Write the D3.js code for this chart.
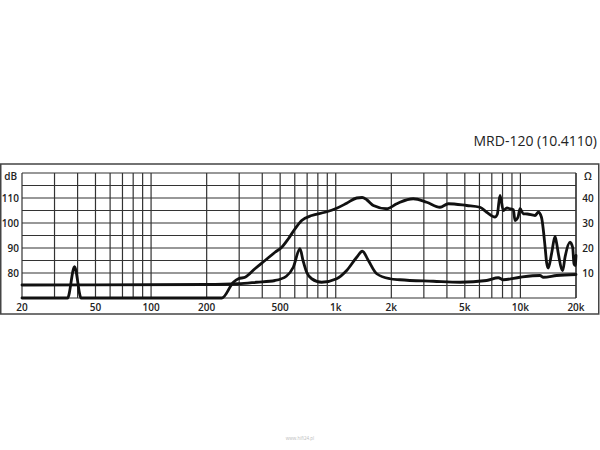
<!DOCTYPE html>
<html>
<head>
<meta charset="utf-8">
<script src="https://cdn.jsdelivr.net/npm/d3@7"></script>
<style>
  html, body { margin: 0; padding: 0; background: #fff; }
  svg { display: block; font-family: "Open Sans", "DejaVu Sans", sans-serif; }
</style>
</head>
<body>
<svg id="chart" width="600" height="450"></svg>
<script>
// ---- data ----
const title = "MRD-120 (10.4110)";
const watermark = "www.hifi24.pl";
const freqTickLabels = [20, 50, 100, 200, 500, 1000, 2000, 5000, 10000, 20000];
const dbTickLabels = [80, 90, 100, 110];
const ohmTickLabels = [10, 20, 30, 40];

const splFreq = [20, 35.3, 38.5, 41.8, 242, 279, 297, 323, 365, 414, 469, 510, 554, 602, 654, 741, 875, 1011, 1146, 1299, 1390, 1471, 1598, 1888, 2139, 2228, 2630, 3108, 3669, 4071, 5117, 6040, 6567, 7284, 7500, 7752, 8083, 8450, 8781, 9156, 9350, 9700, 9951, 10373, 10900, 12000, 12506, 13000, 13610, 13875, 14160, 14770, 15400, 15700, 16050, 16950, 17440, 18560, 19180, 19500, 19800, 20000];
const splDb   = [70, 70, 82.5, 70, 70, 76.3, 77.7, 78.3, 81.7, 85, 88.3, 90.3, 93.7, 97.7, 101, 103, 104.3, 105.9, 107.9, 110, 110.2, 109.3, 107, 105.7, 107.7, 108.3, 109.7, 108.3, 106.3, 107.7, 107, 106.3, 104.3, 102.4, 103.5, 111, 105, 106, 105.7, 105.3, 101, 102.3, 105.7, 103.7, 103.6, 103, 104.3, 102.3, 90.3, 84, 82, 88, 94.6, 92, 87.7, 81, 86.3, 92.3, 90.3, 83.7, 83, 87];

const impFreq = [20, 200, 297, 373, 469, 540, 589, 640, 665, 696, 741, 838, 1011, 1146, 1299, 1394, 1502, 1667, 1967, 2228, 3378, 4710, 6567, 7590, 8083, 9951, 12760, 13310, 15720, 20000];
const impOhm  = [5.2, 5.4, 5.7, 6.3, 7, 8.7, 12.3, 19.7, 15, 10.3, 7.7, 6.3, 7.7, 11, 16.3, 18.7, 15, 9.7, 7.7, 7.3, 6.7, 6.3, 7, 8.1, 7.3, 8.3, 9, 8.3, 9, 9.4];

// ---- layout ----
const svg = d3.select("#chart");
const plot = { left: 22, right: 576, top: 173, bottom: 298 };

const x = d3.scaleLog().domain([20, 20000]).range([plot.left, plot.right]);
const yDb = d3.scaleLinear().domain([70, 120]).range([plot.bottom, plot.top]);
const yOhm = d3.scaleLinear().domain([0, 50]).range([plot.bottom, plot.top]);

// outer frame
svg.append("rect")
  .attr("x", 0.75).attr("y", 164)
  .attr("width", 598).attr("height", 150)
  .attr("fill", "none").attr("stroke", "#444").attr("stroke-width", 1.5);

// title
svg.append("text")
  .attr("x", 597).attr("y", 146)
  .attr("text-anchor", "end")
  .attr("font-size", 14)
  .attr("fill", "#222")
  .text(title);

// grid
const grid = svg.append("g").attr("stroke", "#333").attr("stroke-width", 1.2);
const vGrid = [];
[10, 100, 1000, 10000].forEach(dec => {
  for (let m = 1; m <= 9; m++) {
    const f = dec * m;
    if (f >= 20 && f <= 20000) vGrid.push(f);
  }
});
vGrid.push(20000);
grid.selectAll("line.v").data(vGrid).join("line")
  .attr("class", "v")
  .attr("x1", d => x(d)).attr("x2", d => x(d))
  .attr("y1", plot.top).attr("y2", plot.bottom);
grid.selectAll("line.h").data(d3.range(70, 121, 5)).join("line")
  .attr("class", "h")
  .attr("x1", plot.left).attr("x2", plot.right)
  .attr("y1", d => yDb(d)).attr("y2", d => yDb(d));

// axis labels
const fmtF = f => f >= 1000 ? (f / 1000) + "k" : String(f);
const labelStyle = sel => sel.attr("font-size", 10).attr("font-weight", 600).attr("fill", "#222");

svg.append("g").selectAll("text").data(freqTickLabels).join("text")
  .attr("x", d => x(d)).attr("y", 310.5)
  .attr("text-anchor", "middle")
  .call(labelStyle)
  .text(fmtF);

svg.append("g").selectAll("text").data(dbTickLabels).join("text")
  .attr("x", 19).attr("y", d => yDb(d) + 3.5)
  .attr("text-anchor", "end")
  .call(labelStyle)
  .text(d => d);
svg.append("text").attr("x", 17).attr("y", 180)
  .attr("text-anchor", "end").call(labelStyle).text("dB");

svg.append("g").selectAll("text").data(ohmTickLabels).join("text")
  .attr("x", 588).attr("y", d => yOhm(d) + 3.5)
  .attr("text-anchor", "middle")
  .call(labelStyle)
  .text(d => d);
svg.append("text").attr("x", 588).attr("y", 180)
  .attr("text-anchor", "middle").call(labelStyle).text("Ω");

// curves
const splData = splFreq.map((f, i) => [f, splDb[i]]);
const impData = impFreq.map((f, i) => [f, impOhm[i]]);

const splLine = d3.line().x(d => x(d[0])).y(d => yDb(d[1])).curve(d3.curveMonotoneX);
const impLine = d3.line().x(d => x(d[0])).y(d => yOhm(d[1])).curve(d3.curveMonotoneX);

svg.append("path").datum(impData)
  .attr("d", impLine)
  .attr("fill", "none").attr("stroke", "#111").attr("stroke-width", 2.8)
  .attr("stroke-linejoin", "round").attr("stroke-linecap", "round");

svg.append("path").datum(splData)
  .attr("d", splLine)
  .attr("fill", "none").attr("stroke", "#111").attr("stroke-width", 2.8)
  .attr("stroke-linejoin", "round").attr("stroke-linecap", "round");

// watermark
svg.append("text")
  .attr("x", 300).attr("y", 440)
  .attr("text-anchor", "middle")
  .attr("font-size", 4.5)
  .attr("fill", "#bbb")
  .text(watermark);
</script>
</body>
</html>
